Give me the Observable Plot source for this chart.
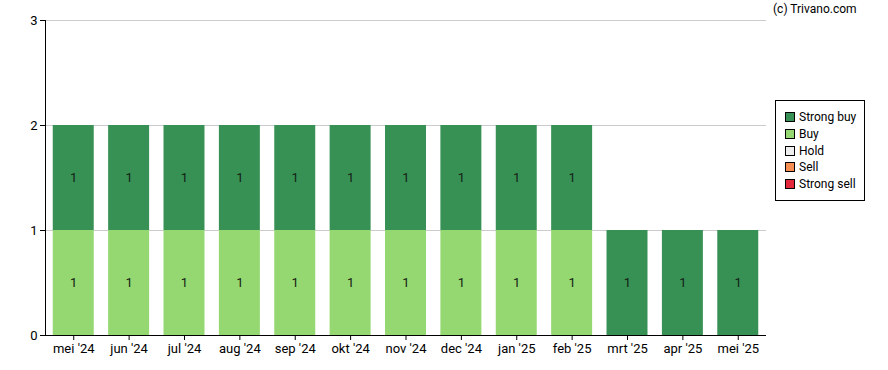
<!DOCTYPE html>
<html>
<head>
<meta charset="utf-8">
<script src="https://cdn.jsdelivr.net/npm/d3@7"></script>
<script src="https://cdn.jsdelivr.net/npm/@observablehq/plot@0.6"></script>
<style>
  body { margin: 0; background: #fff; font-family: Roboto, sans-serif; }
  #wrap { position: relative; width: 888px; height: 370px; }
  #credit { position: absolute; left: 773px; top: 2px; font-size: 12px; color: #000; }
  #legend { position: absolute; left: 775px; top: 100px; width: 88px; height: 99px; border: 1px solid #000; background: #fff; font-size: 12px; box-sizing: content-box; }
  .item { position: absolute; left: 9px; height: 14px; line-height: 14px; white-space: nowrap; }
  .sw { display: inline-block; width: 8px; height: 8px; border: 1px solid #000; margin-right: 4px; vertical-align: -1px; }
</style>
</head>
<body>
<div id="wrap">
  <div id="chart"></div>
  <div id="credit">(c) Trivano.com</div>
  <div id="legend"></div>
</div>
<script>
const months = ["mei '24","jun '24","jul '24","aug '24","sep '24","okt '24","nov '24","dec '24","jan '25","feb '25","mrt '25","apr '25","mei '25"];
const ratings = ["Strong buy","Buy","Hold","Sell","Strong sell"];
const colors = ["#379155","#95d770","#eeeeee","#f98e52","#e4283c"];
const strongBuy  = [1,1,1,1,1,1,1,1,1,1,1,1,1];
const buy        = [1,1,1,1,1,1,1,1,1,1,0,0,0];
const hold       = [0,0,0,0,0,0,0,0,0,0,0,0,0];
const sell       = [0,0,0,0,0,0,0,0,0,0,0,0,0];
const strongSell = [0,0,0,0,0,0,0,0,0,0,0,0,0];
const yTicks = [0,1,2,3];

const series = {"Strong sell": strongSell, "Sell": sell, "Hold": hold, "Buy": buy, "Strong buy": strongBuy};
const stackOrder = ["Strong sell","Sell","Hold","Buy","Strong buy"];
const data = [];
months.forEach((m, i) => {
  stackOrder.forEach(r => {
    const v = series[r][i];
    if (v > 0) data.push({month: m, rating: r, value: v});
  });
});

const chart = Plot.plot({
  width: 888,
  height: 370,
  marginLeft: 45,
  marginRight: 122,
  marginTop: 20,
  marginBottom: 35,
  style: { fontFamily: "Roboto, sans-serif", fontSize: "13px", color: "#000", background: "#fff" },
  x: { domain: months, paddingInner: 0.26, paddingOuter: 0.14, round: false, label: null },
  y: { domain: [0, 3], label: null },
  color: { domain: ratings, range: colors },
  marks: [
    Plot.gridY(yTicks, { stroke: "#cccccc", strokeOpacity: 1 }),
    Plot.barY(data, Plot.stackY({ x: "month", y: "value", z: "rating", fill: "rating", order: stackOrder })),
    Plot.text(data, Plot.stackY({ x: "month", y: "value", z: "rating", text: "value", order: stackOrder, fill: "#142014", fontSize: 13 })),
    Plot.axisY(yTicks, { tickSize: 5, tickPadding: 3, tickFormat: "d", label: null, stroke: "#000", fontSize: 13 }),
    Plot.axisX({ tickSize: 5, tickPadding: 3, label: null, fontSize: 13 }),
    Plot.ruleY([0], { stroke: "#000" }),
    Plot.frame({ anchor: "left", stroke: "#000" })
  ]
});
document.getElementById("chart").appendChild(chart);

const legend = document.getElementById("legend");
ratings.forEach((r, i) => {
  const div = document.createElement("div");
  div.className = "item";
  div.style.top = (9 + i * 16.8) + "px";
  const sw = document.createElement("span");
  sw.className = "sw";
  sw.style.background = colors[i];
  div.appendChild(sw);
  div.appendChild(document.createTextNode(r));
  legend.appendChild(div);
});
</script>
</body>
</html>
